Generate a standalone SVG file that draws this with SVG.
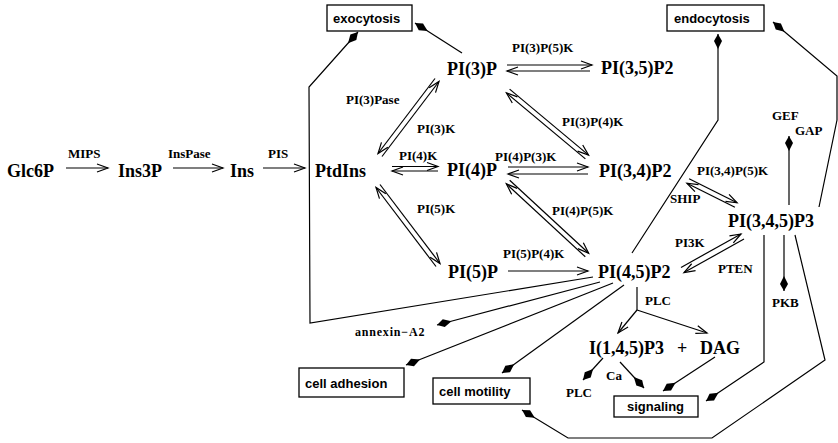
<svg xmlns="http://www.w3.org/2000/svg" width="838" height="443" viewBox="0 0 838 443">
<style>
.n{font-family:"Liberation Serif","Times New Roman",serif;font-weight:bold;font-size:18px;fill:#000}
.l{font-family:"Liberation Serif","Times New Roman",serif;font-weight:bold;font-size:13px;fill:#000}
.b{font-family:"Liberation Sans",Arial,sans-serif;font-weight:bold;font-size:13px;fill:#000}
.box{fill:#fff;stroke:#000;stroke-width:1.3}
.c line,.c path,.c polyline{fill:none;stroke:#000;stroke-width:1.2}
.r{marker-end:url(#o)}
.s{marker-end:url(#d)}
</style>
<defs>
<marker id="o" viewBox="-13 -6 15 12" refX="0" refY="0" markerWidth="15" markerHeight="12" orient="auto" markerUnits="userSpaceOnUse">
<path d="M-11,-4 L0,0 L-11,4" fill="none" stroke="#000" stroke-width="1.2"/>
</marker>
<marker id="d" viewBox="-17 -6 18 12" refX="0" refY="0" markerWidth="18" markerHeight="12" orient="auto" markerUnits="userSpaceOnUse">
<path d="M0,0 L-7,-4 L-15,0 L-7,4 Z" fill="#000"/>
</marker>
</defs>
<rect width="838" height="443" fill="#fff"/>

<g id="connectors" class="c">
<line class="r" x1="66" y1="168" x2="108" y2="168"/>
<line class="r" x1="173" y1="168" x2="223" y2="168"/>
<line class="r" x1="263" y1="168" x2="305" y2="168"/>
<line class="r" x1="392" y1="166.5" x2="438" y2="166.5"/>
<line class="r" x1="438" y1="171" x2="392" y2="171"/>
<line class="r" x1="508" y1="167" x2="588" y2="167"/>
<line class="r" x1="588" y1="174" x2="508" y2="174"/>
<line class="r" x1="507" y1="65" x2="592" y2="65"/>
<line class="r" x1="590" y1="71" x2="507" y2="71"/>
<line class="r" x1="508" y1="271" x2="588" y2="271"/>
<line class="r" x1="382" y1="156.5" x2="439" y2="81.5"/>
<line class="r" x1="435" y1="78.5" x2="378" y2="153.5"/>
<line class="r" x1="380" y1="184.5" x2="440" y2="263.5"/>
<line class="r" x1="436" y1="266.5" x2="376" y2="187.5"/>
<line class="r" x1="509.6" y1="89.1" x2="588.6" y2="155.1"/>
<line class="r" x1="585.4" y1="158.9" x2="506.4" y2="92.9"/>
<line class="r" x1="509.7" y1="180.2" x2="588.7" y2="253.2"/>
<line class="r" x1="585.3" y1="256.8" x2="506.3" y2="183.8"/>
<line class="r" x1="689.1" y1="178.8" x2="737.1" y2="202.8"/>
<line class="r" x1="734.9" y1="207.2" x2="686.9" y2="183.2"/>
<line class="r" x1="681" y1="267.4" x2="741" y2="234"/>
<line class="r" x1="744" y1="239" x2="684" y2="272.6"/>
<polyline points="637,287 637,310"/>
<line class="r" x1="637" y1="310" x2="618" y2="333"/>
<line class="r" x1="637" y1="310" x2="707" y2="333"/>

<line class="s" x1="462" y1="53" x2="415" y2="23"/>
<polyline class="s" points="593,277 310,323 309,87 358,32"/>
<line class="s" x1="600" y1="282" x2="437" y2="325"/>
<line class="s" x1="613" y1="283" x2="406" y2="365"/>
<line class="s" x1="624" y1="285" x2="502" y2="373"/>
<polyline class="s" points="632,253 718,120 718,34"/>
<line class="s" x1="789" y1="205" x2="789" y2="136"/>
<line class="s" x1="784" y1="235" x2="784" y2="291"/>
<polyline class="s" points="819,207 837,120 837,76 773,22"/>
<polyline class="s" points="764,235 764,362 706,401"/>
<polyline class="s" points="795,235 825,360 712,438 568,438 522,410"/>
<line class="s" x1="603" y1="358" x2="583" y2="380"/>
<line class="s" x1="620" y1="362" x2="644" y2="388"/>
<line class="s" x1="715" y1="357" x2="663" y2="391"/>

<text class="l" x="68" y="158">MIPS</text>
<text class="l" x="168" y="158">InsPase</text>
<text class="l" x="268" y="158">PIS</text>
<text class="l" x="346" y="104">PI(3)Pase</text>
<text class="l" x="417" y="133">PI(3)K</text>
<text class="l" x="399" y="160">PI(4)K</text>
<text class="l" x="417" y="213">PI(5)K</text>
<text class="l" x="512" y="52">PI(3)P(5)K</text>
<text class="l" x="562" y="126">PI(3)P(4)K</text>
<text class="l" x="495" y="161">PI(4)P(3)K</text>
<text class="l" x="552" y="215">PI(4)P(5)K</text>
<text class="l" x="503" y="258">PI(5)P(4)K</text>
<text class="l" x="697" y="175">PI(3,4)P(5)K</text>
<text class="l" x="670" y="203">SHIP</text>
<text class="l" x="675" y="247">PI3K</text>
<text class="l" x="718" y="273">PTEN</text>
<text class="l" x="645" y="305">PLC</text>
</g>

<g id="Glc6P"><text class="n" x="7" y="177">Glc6P</text></g>
<g id="Ins3P"><text class="n" x="118" y="177">Ins3P</text></g>
<g id="Ins"><text class="n" x="230" y="177">Ins</text></g>
<g id="PtdIns"><text class="n" x="315" y="177">PtdIns</text></g>
<g id="PI3P"><text class="n" x="447" y="75">PI(3)P</text></g>
<g id="PI4P"><text class="n" x="447" y="176">PI(4)P</text></g>
<g id="PI5P"><text class="n" x="448" y="278">PI(5)P</text></g>
<g id="PI35P2"><text class="n" x="601" y="74">PI(3,5)P2</text></g>
<g id="PI34P2"><text class="n" x="599" y="177">PI(3,4)P2</text></g>
<g id="PI45P2"><text class="n" x="598" y="278">PI(4,5)P2</text></g>
<g id="PI345P3"><text class="n" x="728" y="227">PI(3,4,5)P3</text></g>
<g id="IP3DAG"><text class="n" x="589" y="354">I(1,4,5)P3</text><text class="n" x="677" y="354">+</text><text class="n" x="700" y="354">DAG</text></g>
<g id="GEFGAP"><text class="l" x="772" y="120">GEF</text><text class="l" x="795" y="135">GAP</text></g>
<g id="PKB"><text class="l" x="772" y="307">PKB</text></g>
<g id="PLC2"><text class="l" x="566" y="397">PLC</text></g>
<g id="Ca"><text class="l" x="606" y="380">Ca</text></g>
<g id="annexin"><text class="l" x="355" y="336" style="font-size:12px;letter-spacing:0.8px">annexin−A2</text></g>
<g id="exocytosis"><rect class="box" x="327" y="5" width="85" height="26"/><text class="b" x="333" y="23">exocytosis</text></g>
<g id="endocytosis"><rect class="box" x="667" y="5" width="97" height="26"/><text class="b" x="674" y="23">endocytosis</text></g>
<g id="celladhesion"><rect class="box" x="299" y="368" width="105" height="29"/><text class="b" x="305" y="388">cell adhesion</text></g>
<g id="cellmotility"><rect class="box" x="433" y="378" width="97" height="26"/><text class="b" x="439" y="396">cell motility</text></g>
<g id="signaling"><rect class="box" x="614" y="396" width="84" height="21"/><text class="b" x="627" y="411">signaling</text></g>
</svg>
